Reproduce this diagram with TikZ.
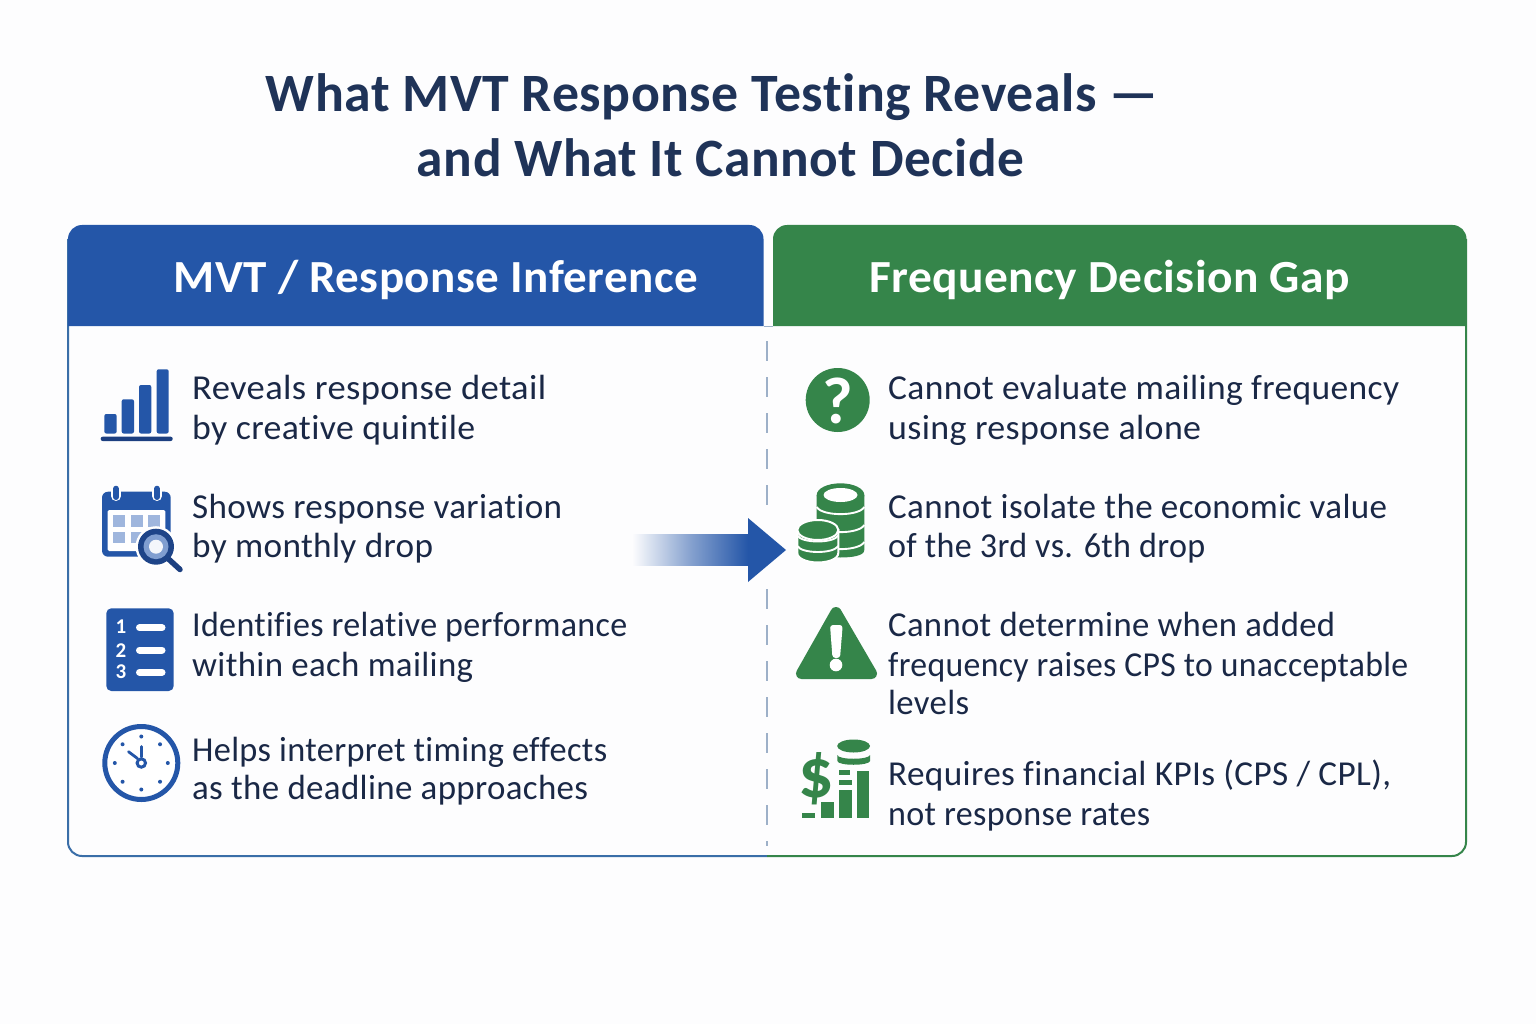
\documentclass[tikz,border=0pt]{standalone}
\usepackage{graphicx}
\usepackage{fontspec}
\setmainfont{Carlito}[LetterSpace=1,Ligatures=NoCommon]
\newcommand{\wl}[2]{\resizebox{#1pt}{\height}{#2}}
\definecolor{ink}{HTML}{1A2846}
\definecolor{titleink}{HTML}{1F3358}
\definecolor{blueA}{HTML}{2456A8}
\definecolor{blueD}{HTML}{1C3F80}
\definecolor{blueL}{HTML}{9FB6DD}
\definecolor{greenA}{HTML}{35854A}
\definecolor{edgeB}{HTML}{3A6EA8}
\definecolor{dashc}{HTML}{9DB0C8}
\definecolor{paper}{HTML}{FDFDFE}
\tikzset{
  titletext/.style={font=\fontsize{54}{58}\selectfont\bfseries,text=titleink,inner sep=0pt},
  headtext/.style={font=\fontsize{46}{48}\selectfont\bfseries,text=white,inner sep=0pt},
  item/.style={font=\fontsize{35}{40}\selectfont,text=ink,anchor=west,align=left,inner sep=0pt},
  divider/.style={dashc,line width=2pt,dash pattern=on 20pt off 16pt},
}
\begin{document}
\begin{tikzpicture}[x=1pt,y=-1pt]
\useasboundingbox (0,0) rectangle (1536,1024);
\fill[paper] (0,0) rectangle (1536,1024);
% title
\node[titletext] (title1) at (712,97) {\wl{892}{What MVT Response Testing Reveals —}};
\node[titletext] (title2) at (720.5,157.5) {\wl{607}{and What It Cannot Decide}};
% panel
\draw[edgeB,line width=2pt] (767,856) -- (82,856) arc[start angle=90,end angle=180,radius=14] -- (68,239);
\draw[greenA,line width=2pt] (767,856) -- (1452,856) arc[start angle=90,end angle=0,radius=14] -- (1466,239);
% headers
\fill[blueA,rounded corners=14pt] (68,326) -- (68,225) -- (763.5,225) [sharp corners] -- (763.5,326) -- cycle;
\fill[greenA,rounded corners=14pt] (1466.5,326) -- (1466.5,225) -- (773,225) [sharp corners] -- (773,326) -- cycle;
\draw[dashc,line width=1pt] (763.5,326) -- (773,326);
\node[headtext] (headL) at (436,280) {\wl{524}{MVT / Response Inference}};
\node[headtext] (headR) at (1109.5,280) {\wl{481}{Frequency Decision Gap}};
% divider
\coordinate (divA) at (767,341);
\coordinate (divB) at (767,505);
\coordinate (divC) at (767,589);
\coordinate (divD) at (767,846);
\draw[divider] (divA) -- (divB);
\draw[divider] (divC) -- (divD);
% left texts
\node[item] (l1) at (192,410) {\wl{354}{Reveals response detail}\\\wl{283}{by creative quintile}};
\node[item] (l2) at (192,528.5) {\wl{370}{Shows response variation}\\[-1pt]\wl{241}{by monthly drop}};
\node[item] (l3) at (192,647) {\wl{435}{Identifies relative performance}\\\wl{281}{within each mailing}};
\node[item] (l4) at (192,771.5) {\wl{415}{Helps interpret timing effects}\\[-2pt]\wl{396}{as the deadline approaches}};
% right texts
\node[item] (r1) at (888,410) {\wl{511}{Cannot evaluate mailing frequency}\\\wl{313}{using response alone}};
\node[item] (r2) at (888,528.5) {\wl{499}{Cannot isolate the economic value}\\[-1pt]\wl{317}{of the 3rd vs. 6th drop}};
\node[item] (r3) at (888,663.5) {\wl{447}{Cannot determine when added}\\\wl{520}{frequency raises CPS to unacceptable}\\[-2pt]\wl{81}{levels}};
\node[item] (r4) at (888,796) {\wl{503}{Requires financial KPIs (CPS / CPL),}\\\wl{262}{not response rates}};
% icon: bars
\begin{scope}[blueA]
\foreach \xa/\xb/\yy in {104.3/116.7/414,121.7/134/399.3,139/151.3/385,156.7/168.7/369.3}
  \fill[rounded corners=2pt] (\xa,433.5) -- (\xa,\yy) -- (\xb,\yy) -- (\xb,433.5) -- cycle;
\end{scope}
\fill[blueD,rounded corners=2pt] (100.7,436.7) rectangle (172.7,441);
% icon: calendar
\fill[blueA,rounded corners=6pt] (102,491.7) rectangle (170.7,556.7);
\fill[white,rounded corners=1.5pt] (107.7,510) rectangle (165.3,551);
\foreach \xa in {113.3,131,148.3}\foreach \ya in {515,531.7}
  \fill[blueL] (\xa,\ya) rectangle +(11.7,11.7);
\foreach \xa in {116,157}{
  \draw[white,line width=10pt,line cap=round] (\xa,490) -- (\xa,496);
  \draw[blueA,line width=6pt,line cap=round] (\xa,488.7) -- (\xa,497);
}
\fill[white] (156,546.7) circle[radius=20.5];
\draw[blueD,line width=5.5pt,line cap=round] (168,558.5) -- (180,569.5);
\fill[blueD!80!blueA] (156,546.7) circle[radius=18];
\fill[blueL!75!blueA] (156,546.7) circle[radius=12.5];
\fill[white!88!blueL] (156,546.7) circle[radius=7];
% icon: list
\fill[blueA,rounded corners=5pt] (106.3,608.3) rectangle (173.7,691);
\foreach \n/\yy/\yb in {1/626.7/627.7,2/650.7/650,3/671.7/672.3}{
  \node[text=white,font=\fontsize{21}{21}\selectfont\bfseries,inner sep=0pt] (num\n) at (121,\yy) {\n};
  \draw[white,line width=7pt,line cap=round] (139.5,\yb) -- (162,\yb);
}
% icon: clock
\draw[blueA,line width=5pt,fill=white] (141.3,763) circle[radius=36.5];
\foreach \a in {0,45,...,315}
  \fill[blueA] (141.3,763) ++(\a:26.5) circle[radius=2];
\draw[blueA,line width=2.6pt,line cap=round] (141.3,757) -- (141.3,746.5);
\draw[blueA,line width=2.8pt,line cap=round] (137.5,758.5) -- (128.5,751.7);
\draw[blueA,line width=3pt,fill=white] (141.3,763) circle[radius=4.2];
% icon: question
\fill[greenA] (837.7,400) circle[radius=32];
\node[text=white,font=\fontsize{66}{66}\selectfont\bfseries,inner sep=0pt] (qm) at (837.7,401) {?};
% icon: coins
\fill[greenA] (816.7,495) -- (816.7,550) .. controls (816.7,556) and (830,557.5) .. (840.5,557.5) .. controls (851,557.5) and (864.3,556) .. (864.3,550) -- (864.3,495) -- cycle;
\foreach \yy in {507,525,542}
  \draw[white,line width=1.9pt] (816.7,\yy) .. controls (822,\yy+9.5) and (859,\yy+9.5) .. (864.3,\yy);
\fill[greenA] (840.5,495) ellipse[x radius=23.8,y radius=11.7];
\fill[white] (840.5,495) ellipse[x radius=17,y radius=7];
\fill[greenA,draw=white,line width=2pt] (797.3,530) -- (797.3,553) .. controls (797.3,559) and (808,562.5) .. (817.8,562.5) .. controls (828,562.5) and (838.3,559) .. (838.3,553) -- (838.3,530) -- cycle;
\fill[greenA,draw=white,line width=2pt] (817.8,530) ellipse[x radius=20.5,y radius=10];
\foreach \yy in {535.5,546}
  \draw[white,line width=1.9pt] (797.3,\yy) .. controls (802,\yy+8) and (833.5,\yy+8) .. (838.3,\yy);
% icon: warning
\fill[greenA,draw=greenA,line width=11pt,line join=round] (836,612.5) -- (801.5,673.5) -- (871.5,673.5) -- cycle;
\fill[white,rounded corners=3pt] (830,625) -- (842.7,625) -- (840,658) -- (832.5,658) -- cycle;
\fill[white] (836,665) circle[radius=6.3];
% icon: dollar chart
\node[text=greenA,font=\fontsize{70}{70}\selectfont\bfseries,inner sep=0pt] (dollar) at (816,779) {\$};
\fill[greenA] (802,812.7) rectangle (815,818.3);
\fill[greenA] (820.7,802.3) rectangle (834,818.3);
\fill[greenA] (838.7,790) rectangle (852,818.3);
\fill[greenA] (838.7,780) rectangle (852,785);
\fill[greenA] (838.7,770) rectangle (850,775);
\fill[greenA] (856.7,771) rectangle (869.3,818.3);
\fill[greenA] (837.3,755) -- (837.3,761) .. controls (838,766) and (869,766) .. (870,761) -- (870,755) .. controls (869,760) and (838,760) .. (837.3,755) -- cycle;
\fill[greenA] (853.6,746) ellipse[x radius=16.4,y radius=6.5];
% arrow
\coordinate (arrowStart) at (632,550);
\coordinate (arrowBase) at (748,550);
\coordinate (arrowTip) at (786,550);
\shade[left color=paper,right color=blueA,middle color=blueA!55] ([yshift=15.5pt]arrowStart) rectangle ([yshift=-15.5pt]arrowBase);
\fill[blueA] (arrowTip) -- ([yshift=32pt]arrowBase) -- ([yshift=-32pt]arrowBase) -- cycle;
\end{tikzpicture}
\end{document}
